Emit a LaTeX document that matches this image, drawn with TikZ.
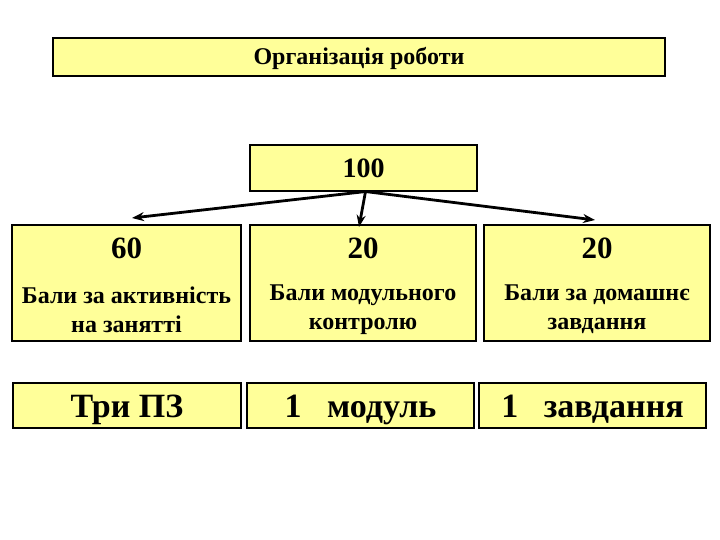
\documentclass[tikz,border=0pt]{standalone}
\usepackage{fontspec}
\setmainfont{Liberation Serif}
\usetikzlibrary{calc,arrows.meta}
\definecolor{cardyellow}{HTML}{FFFF99}
\begin{document}
\begin{tikzpicture}[x=1pt,y=-1pt,
  card/.style={draw=black,line width=1.1pt,fill=cardyellow,inner sep=0pt},
  num/.style={font=\bfseries\fontsize{31}{31}\selectfont},
  desc/.style={font=\bfseries\fontsize{24}{29}\selectfont,align=center},
  big/.style={font=\bfseries\fontsize{34}{34}\selectfont,text height=23pt,text depth=0pt},
  link/.style={line width=2.8pt,-{Stealth[length=12pt,width=9pt]}}]
  \useasboundingbox (0,0) rectangle (720,540);
  % title
  \node[card,minimum width=612pt,minimum height=38pt,text height=15pt,text depth=0pt,
        font=\bfseries\fontsize{24}{24}\selectfont] (title) at (359,57) {Організація роботи};
  % total
  \node[card,minimum width=227pt,minimum height=46pt,
        font=\bfseries\fontsize{28}{28}\selectfont] (total) at (363.5,168) {100};
  % parts
  \node[card,minimum width=229pt,minimum height=116pt] (c60) at (126.5,283) {};
  \node[card,minimum width=226pt,minimum height=116pt] (cmod) at (363,283) {};
  \node[card,minimum width=226pt,minimum height=116pt] (chome) at (597,283) {};
  \node[num] (n60) at ($(c60.north)+(0,23.5)$) {60};
  \node[num] (nmod) at ($(cmod.north)+(0,23.5)$) {20};
  \node[num] (nhome) at ($(chome.north)+(0,23.5)$) {20};
  \node[desc] (d60) at ($(c60.north)+(0,85)$) {Бали за активність\\на занятті};
  \node[desc] (dmod) at ($(cmod.north)+(0,85)$) {Бали модульного\\контролю};
  \node[desc] (dhome) at ($(chome.north)+(0,85)$) {Бали за домашнє\\завдання};
  % counts
  \node[card,big,minimum width=228pt,minimum height=45pt] (t60) at (127,405.5) {Три ПЗ};
  \node[card,big,minimum width=227pt,minimum height=45pt] (tmod) at (360.5,405.5) {1\ \ \ модуль};
  \node[card,big,minimum width=227pt,minimum height=45pt] (thome) at (592.5,405.5) {1\ \ \ завдання};
  % arrows
  \coordinate (top) at ($(total.south)+(2,0)$);
  \coordinate (e60) at (132,218);
  \coordinate (emod) at (359,227);
  \coordinate (ehome) at (595,220);
  \draw[link] (top) -- (e60);
  \draw[link] (top) -- (emod);
  \draw[link] (top) -- (ehome);
\end{tikzpicture}
\end{document}
